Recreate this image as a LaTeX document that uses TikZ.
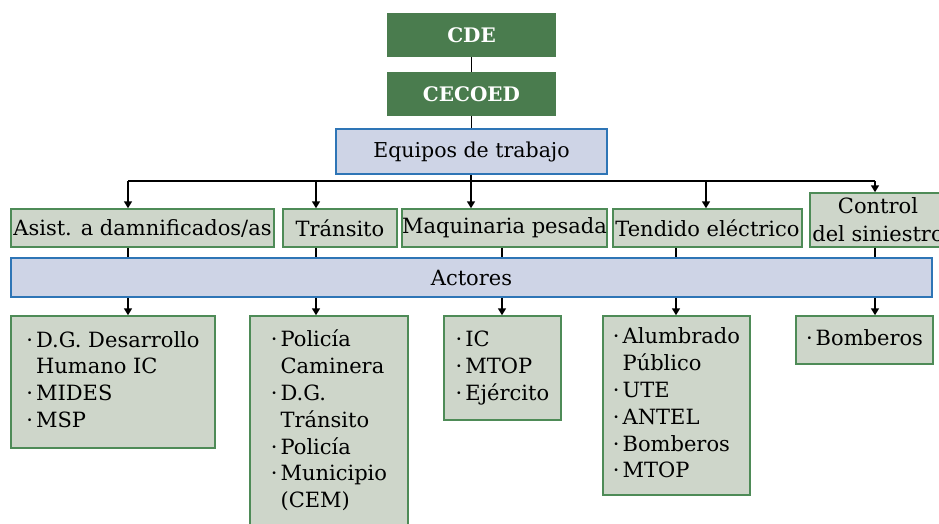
\documentclass[tikz,border=0pt]{standalone}
\usepackage{fontspec}
\setmainfont{DejaVu Serif}
\usetikzlibrary{arrows.meta}
\definecolor{dkgreen}{HTML}{4A7C4E}
\definecolor{gfill}{HTML}{CED6CA}
\definecolor{gborder}{HTML}{4E8B57}
\definecolor{bfill}{HTML}{CED4E6}
\definecolor{bborder}{HTML}{2E75B6}
\newcommand\bul{·}
\begin{document}
\begin{tikzpicture}[x=1pt,y=-1pt,
  txt/.style={font=\fontsize{21}{26.8}\selectfont},
  darkbox/.style={fill=dkgreen,draw=none,text=white,inner sep=0pt,
    font=\bfseries\fontsize{20}{24}\selectfont},
  gbox/.style={fill=gfill,draw=gborder,line width=1.5pt,inner sep=0pt,align=center,txt},
  bbox/.style={fill=bfill,draw=bborder,line width=1.5pt,inner sep=0pt,txt},
  conn/.style={line width=1.6pt,draw=black},
  arr/.style={conn,-{Triangle[length=7pt,width=8pt]}}]
\useasboundingbox (0,0) rectangle (939,523);
\fill[white] (0,0) rectangle (939,523);

% top
\node[darkbox,minimum width=169pt,minimum height=44pt] (cde) at (471.5,35) {CDE};
\node[darkbox,minimum width=169pt,minimum height=44pt] (cecoed) at (471.5,94) {CECOED};
\node[bbox,minimum width=271pt,minimum height=45pt,font=\fontsize{20.5}{24}\selectfont] (eq) at (471.5,151.5) {Equipos de trabajo};

% teams
\node[gbox,minimum width=263pt,minimum height=38pt] (asist) at (142.5,228) {Asist. a damnificados/as};
\node[gbox,minimum width=114pt,minimum height=38pt] (trans) at (340,228) {Tránsito};
\node[gbox,minimum width=205pt,minimum height=38pt] (maq) at (504.5,228) {Maquinaria pesada};
\node[gbox,minimum width=189pt,minimum height=38pt] (tend) at (707.5,228) {Tendido eléctrico};
\node[gbox,minimum width=136pt,minimum height=54pt,font=\fontsize{21}{28}\selectfont] (ctrl) at (878,220) {Control\\del siniestro};

% actores
\node[bbox,minimum width=921pt,minimum height=39pt] (act) at (471.5,277.5) {Actores};

% lists
\node[gbox,minimum width=204pt,minimum height=132pt] (b1) at (113,382)
  {\begin{tabular}{@{}l@{\hspace{3pt}}l@{}}\bul & D.G. Desarrollo\\ & Humano IC\\ \bul & MIDES\\ \bul & MSP\end{tabular}};
\node[gbox,minimum width=158pt,minimum height=212pt] (b2) at (329,422)
  {\begin{tabular}{@{}l@{\hspace{3pt}}l@{}}\bul & Policía\\ & Caminera\\ \bul & D.G.\\ & Tránsito\\ \bul & Policía\\ \bul & Municipio\\ & (CEM)\end{tabular}};
\node[gbox,minimum width=117pt,minimum height=104pt] (b3) at (502.5,368)
  {\begin{tabular}{@{}l@{\hspace{3pt}}l@{}}\bul & IC\\ \bul & MTOP\\ \bul & Ejército\end{tabular}};
\node[gbox,minimum width=147pt,minimum height=179pt] (b4) at (676.5,405.5)
  {\begin{tabular}{@{}l@{\hspace{3pt}}l@{}}\bul & Alumbrado\\ & Público\\ \bul & UTE\\ \bul & ANTEL\\ \bul & Bomberos\\ \bul & MTOP\end{tabular}};
\node[gbox,minimum width=137pt,minimum height=48pt] (b5) at (864.5,340)
  {\begin{tabular}{@{}l@{\hspace{3pt}}l@{}}\bul & Bomberos\end{tabular}};

% connectors top
\draw[conn] (cde) -- (cecoed);
\draw[conn] (cecoed) -- (eq);
\coordinate (j1) at (128,181);
\coordinate (j2) at (316,181);
\coordinate (j3) at (471,181);
\coordinate (j4) at (706,181);
\coordinate (j5) at (875,181);
\draw[conn] (eq.south -| j3) -- (j3);
\draw[conn] (j1) -- (j5);
\draw[arr] (j1) -- (j1 |- asist.north);
\draw[arr] (j2) -- (j2 |- trans.north);
\draw[arr] (j3) -- (j3 |- maq.north);
\draw[arr] (j4) -- (j4 |- tend.north);
\draw[arr] (j5) -- (j5 |- ctrl.north);

% columns below
\coordinate (k1) at (128,0);
\coordinate (k2) at (316,0);
\coordinate (k3) at (502,0);
\coordinate (k4) at (676,0);
\coordinate (k5) at (875,0);
\draw[conn] (asist.south -| k1) -- (act.north -| k1);
\draw[conn] (trans.south -| k2) -- (act.north -| k2);
\draw[conn] (maq.south -| k3) -- (act.north -| k3);
\draw[conn] (tend.south -| k4) -- (act.north -| k4);
\draw[conn] (ctrl.south -| k5) -- (act.north -| k5);
\draw[arr] (act.south -| k1) -- (b1.north -| k1);
\draw[arr] (act.south -| k2) -- (b2.north -| k2);
\draw[arr] (act.south -| k3) -- (b3.north -| k3);
\draw[arr] (act.south -| k4) -- (b4.north -| k4);
\draw[arr] (act.south -| k5) -- (b5.north -| k5);
\end{tikzpicture}
\end{document}
